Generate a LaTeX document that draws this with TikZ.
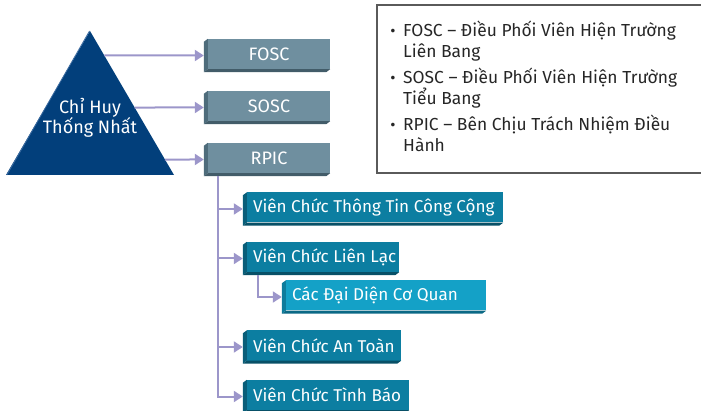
\documentclass[tikz,border=0pt]{standalone}
\usepackage{fontspec}
\setmainfont{Fira Sans}
\usetikzlibrary{arrows.meta,calc}
\definecolor{navy}{HTML}{023F7B}
\definecolor{navyedge}{HTML}{3C6BA0}
\definecolor{greyface}{HTML}{6F8F9F}
\definecolor{greyside}{HTML}{4E6C7B}
\definecolor{tealface}{HTML}{0C7EA1}
\definecolor{tealside}{HTML}{095E79}
\definecolor{ltealface}{HTML}{14A1C7}
\definecolor{ltealside}{HTML}{0D7C9C}
\definecolor{lav}{HTML}{9C96CA}
\definecolor{legline}{HTML}{5A5A5A}
\newcommand{\tdbox}[8]{%
  \node[boxst, minimum width=#3pt, minimum height=#4pt, fill=#5] (#1) at #2 {\makebox[\dimexpr#3pt-12pt\relax][#7]{#8}};
  \fill[#6] (#1.north west) -- ++(-4,3) -- ([shift={(-4,3)}]#1.south west) -- (#1.south west) -- cycle;
  \fill[#6!85!black] (#1.south west) -- ++(-4,3) -- ([shift={(-4,3)}]#1.south east) -- (#1.south east) -- cycle;
}
\begin{document}
\begin{tikzpicture}[x=1pt,y=-1pt,
  boxst/.style={inner xsep=6pt, inner ysep=0pt, text=white, font=\fontsize{18}{21}\selectfont},
  tbox/.style={font=\fontsize{17.1}{21}\selectfont},
  arr/.style={draw=lav, line width=2pt, -{Triangle[length=9pt,width=11pt]}},
  legtxt/.style={anchor=base west, inner sep=0pt, text=black!85, font=\fontsize{17.4}{21}\selectfont},
  bul/.style={anchor=base, inner sep=0pt, text=black!85, font=\fontsize{16}{18}\selectfont}]
\useasboundingbox (0,0) rectangle (701,411);
% triangle
\coordinate (apex) at (90,31);
\coordinate (bl) at (6,175);
\coordinate (br) at (174,175);
\fill[navy] (apex) -- (bl) -- (br) -- cycle;
\draw[navyedge, line width=0.8pt] ([xshift=-0.5]apex) -- ([xshift=0.8]bl);
\node[align=center, text=white, font=\fontsize{18}{20}\selectfont, inner sep=0pt] (cmd) at (90,118) {Chỉ Huy\\Thống Nhất};
% grey boxes
\tdbox{FOSC}{(269,54)}{122}{30}{greyface}{greyside}{c}{FOSC}
\tdbox{SOSC}{(269,106)}{122}{30}{greyface}{greyside}{c}{SOSC}
\tdbox{RPIC}{(269,158)}{122}{30}{greyface}{greyside}{c}{RPIC}
% teal boxes
\begin{scope}[boxst/.append style={tbox}]
\tdbox{T1}{(375,207.5)}{256}{30}{tealface}{tealside}{l}{Viên Chức Thông Tin Công Cộng}
\tdbox{T2}{(323,257)}{152}{30}{tealface}{tealside}{l}{Viên Chức Liên Lạc}
\tdbox{T3}{(386,295.5)}{200}{30}{ltealface}{ltealside}{l}{Các Đại Diện Cơ Quan}
\tdbox{T4}{(324,345.5)}{154}{30}{tealface}{tealside}{l}{Viên Chức An Toàn}
\tdbox{T5}{(328,395)}{162}{30}{tealface}{tealside}{l}{Viên Chức Tình Báo}
\end{scope}
% arrows from triangle
\foreach \b in {FOSC,SOSC,RPIC}{
  \coordinate (\b in) at ([shift={(-4,1.5)}]\b.west);
  \coordinate (\b far) at ([xshift=-200pt]\b in);
  \draw[arr] (intersection of apex--br and \b in--\b far) -- (\b in);
}
% trunk
\foreach \b in {T1,T2,T3,T4,T5}{
  \coordinate (\b in) at ([shift={(-4,1.5)}]\b.west);
}
\coordinate (tktop) at ([shift={(10,3)}]RPIC.south west);
\draw[arr] (tktop) |- (T5in);
\draw[arr] (tktop |- T1in) -- (T1in);
\draw[arr] (tktop |- T2in) -- (T2in);
\draw[arr] (tktop |- T4in) -- (T4in);
\draw[arr] ([shift={(11,3)}]T2.south west) |- (T3in);
% legend
\draw[legline, line width=1.2pt] (377,5) rectangle (710,173);
\node[bul] (b1) at (393,37) {•};
\node[legtxt] (l1a) at (403,37) {FOSC – Điều Phối Viên Hiện Trường};
\node[legtxt] (l1b) at (403,58) {Liên Bang};
\node[bul] (b2) at (393,84) {•};
\node[legtxt] (l2a) at (403,84) {SOSC – Điều Phối Viên Hiện Trường};
\node[legtxt] (l2b) at (403,105) {Tiểu Bang};
\node[bul] (b3) at (393,131) {•};
\node[legtxt] (l3a) at (403,131) {RPIC – Bên Chịu Trách Nhiệm Điều};
\node[legtxt] (l3b) at (403,152) {Hành};
\end{tikzpicture}
\end{document}
